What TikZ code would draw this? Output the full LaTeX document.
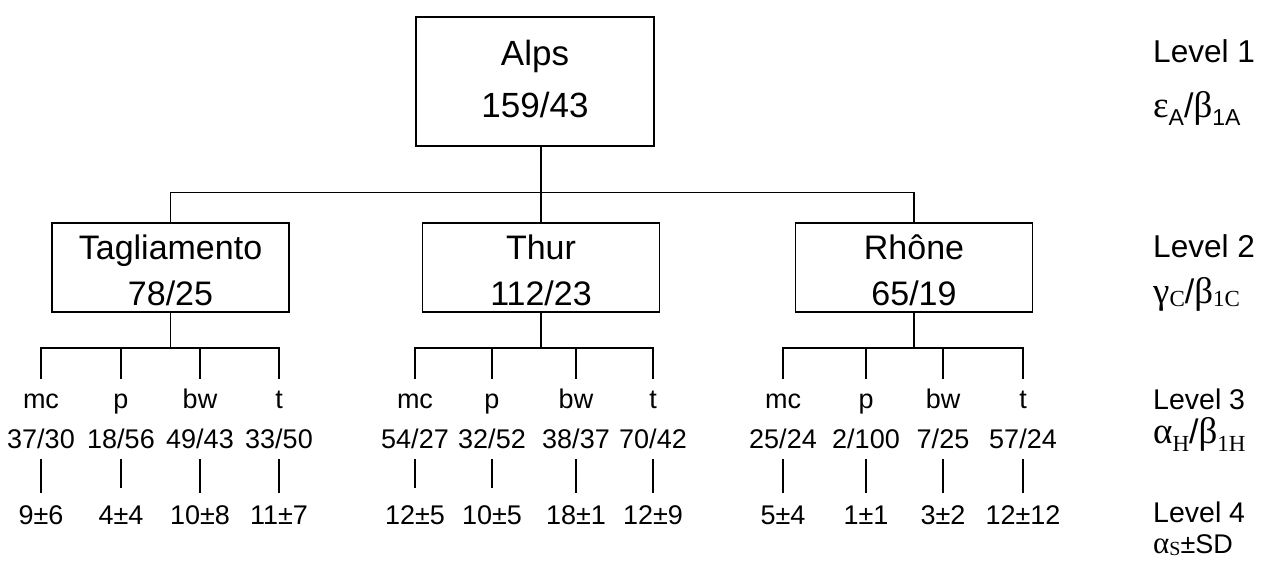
\documentclass[tikz,border=0pt]{standalone}
\usepackage{fontspec}
\setmainfont{Liberation Sans}
\newfontfamily\grk{Liberation Serif}
\newcommand\fs[1]{\fontsize{#1}{#1}\selectfont}
\newcommand\lsub[2]{\raisebox{-#1pt}{\fs{23}#2}}
\newcommand\leaf[6]{%
  \node[lvthree, text height=29pt] (#1n) at (#2,408) {#3};
  \node[lvthree, text height=20pt, text depth=11pt] (#1v) at (#2,448) {#4};
  \node[lvthree, text height=#6pt] (#1s) at (#2,524) {#5};
  \draw[ln] (#1v.south) -- (#1s.north);
}
\begin{document}
\begin{tikzpicture}[x=1pt,y=-1pt,
  ln/.style={line width=1.3pt},
  rbox/.style={draw, line width=1.3pt, minimum width=237pt, minimum height=89pt,
     inner sep=0pt, align=center, font=\fontsize{34}{46}\selectfont},
  lvthree/.style={anchor=base, inner sep=0pt, outer sep=0pt, font=\fs{27}},
  lvl/.style={anchor=base west, inner sep=0pt, font=\fs{31.6}},
  lvlb/.style={anchor=base west, inner sep=0pt, font=\fs{28.5}},
  grl/.style={anchor=base west, inner sep=0pt, font=\fs{37}}]
\useasboundingbox (0,0) rectangle (1272,562);

% Level 1
\node[draw, line width=1.3pt, minimum width=238pt, minimum height=129pt, inner sep=0pt,
  align=center, font=\fontsize{35}{52}\selectfont] (alps) at (535,81.5)
  {Alps\\159/43\rule[-5.3pt]{0pt}{0pt}};

% Level 2
\node[rbox] (tag) at (170.5,267.5) {\rule{0pt}{31pt}Tagliamento\\78/25};
\node[rbox] (thur) at (541,267.5) {\rule{0pt}{31pt}Thur\\112/23};
\node[rbox] (rho) at (914,267.5) {\rule{0pt}{31pt}Rhône\\65/19};

\draw[ln] (alps.south -| thur.north) -- (thur.north);
\draw[ln] (tag.north) -- ++(0,-30) -| (rho.north);

% Level 3 and 4
\leaf{ta}{41}{mc}{37/30}{9±6}{31}
\leaf{tb}{121}{p}{18/56}{4±4}{36}
\leaf{tc}{200}{bw}{49/43}{10±8}{31}
\leaf{td}{279}{t}{33/50}{11±7}{31}

\leaf{ua}{415}{mc}{54/27}{12±5}{36}
\leaf{ub}{492}{p}{32/52}{10±5}{36}
\leaf{uc}{576}{bw}{38/37}{18±1}{31}
\leaf{ud}{653}{t}{70/42}{12±9}{31}

\leaf{ra}{783}{mc}{25/24}{5±4}{31}
\leaf{rb}{866}{p}{2/100}{1±1}{31}
\leaf{rc}{943}{bw}{7/25}{3±2}{31}
\leaf{rd}{1023}{t}{57/24}{12±12}{31}

\draw[ln] (tan.north) -- ++(0,-31) -| (tdn.north);
\draw[ln] (tbn.north) -- ++(0,-31);
\draw[ln] (tcn.north) -- ++(0,-31);
\draw[ln] (tag.south) -- ++(0,36);

\draw[ln] (uan.north) -- ++(0,-31) -| (udn.north);
\draw[ln] (ubn.north) -- ++(0,-31);
\draw[ln] (ucn.north) -- ++(0,-31);
\draw[ln] (thur.south) -- ++(0,36);

\draw[ln] (ran.north) -- ++(0,-31) -| (rdn.north);
\draw[ln] (rbn.north) -- ++(0,-31);
\draw[ln] (rcn.north) -- ++(0,-31);
\draw[ln] (rho.south) -- ++(0,36);

% Level labels
\node[lvl] (lv1) at (1153,62) {Level 1};
\node[grl] (gr1) at (1153,117) {{\grk ε}\lsub{8}{A}{\fs{34}/}{\grk β}\lsub{8}{1A}};
\node[lvl] (lv2) at (1153,257) {Level 2};
\node[grl] (gr2) at (1153,303) {{\grk γ}\lsub{3}{\grk C}{\fs{34}/}{\grk β}\lsub{3}{\grk 1C}};
\node[lvlb] (lv3) at (1153,409) {Level 3};
\node[grl] (gr3) at (1153,443) {{\grk α}\lsub{8}{\grk H}{\fs{34}/}{\grk β}\lsub{8}{\grk 1H}};
\node[lvlb] (lv4) at (1153,522) {Level 4};
\node[grl, font=\fs{31}] (gr4) at (1153,553) {{\grk α}\raisebox{-2pt}{\fs{20}\grk S}{\fs{27}±SD}};
\end{tikzpicture}
\end{document}
